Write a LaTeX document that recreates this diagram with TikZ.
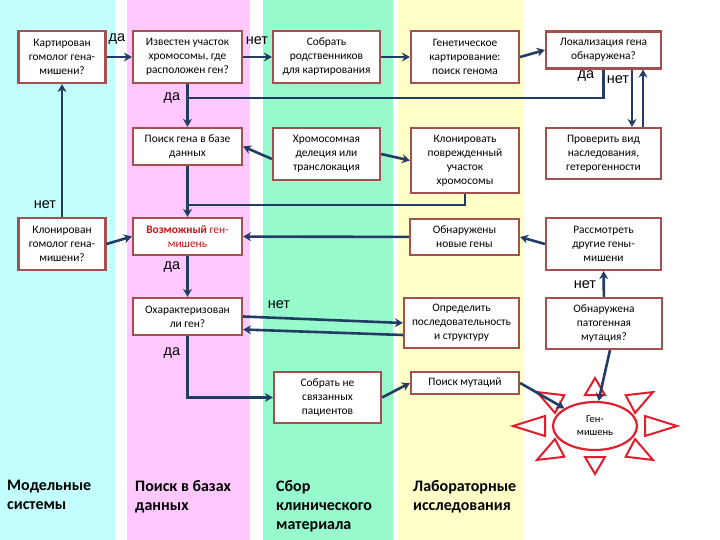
\documentclass[tikz,border=0pt]{standalone}
\usepackage{fontspec}
\setmainfont{Carlito}
\newfontfamily\answerfont{Liberation Sans}
\usepackage{tikz}
\usetikzlibrary{calc, positioning, shapes.geometric, arrows.meta}

\definecolor{bandcyan}{RGB}{195,255,255}
\definecolor{bandpink}{RGB}{255,200,255}
\definecolor{bandgreen}{RGB}{150,250,205}
\definecolor{bandyellow}{RGB}{255,255,200}
\definecolor{boxborder}{RGB}{165,80,80}
\definecolor{arrowblue}{RGB}{35,60,100}
\definecolor{sunred}{RGB}{225,30,45}
\definecolor{redtext}{RGB}{200,20,20}

\begin{document}
\begin{tikzpicture}[x=1pt, y=-1pt]
    % Define styles
    \tikzstyle{flow_box}=[draw=boxborder, line width=2.2pt, fill=white, align=center, inner sep=2pt, font=\fontsize{11.4}{14}\selectfont]
    \tikzstyle{flow_arrow}=[draw=arrowblue, line width=2.6pt, -{Stealth[length=8pt, width=9pt]}]
    \tikzstyle{flow_line}=[draw=arrowblue, line width=2.6pt]
    \tikzstyle{answer_text}=[font=\answerfont\fontsize{14.5}{16}\selectfont, inner sep=0pt]
    \tikzstyle{column_title}=[font=\fontsize{16}{19}\selectfont\bfseries, align=left, anchor=north west, inner sep=0pt]
    \tikzstyle{sun_ray}=[draw=sunred, line width=2pt, fill=white, line join=miter]

    \useasboundingbox (0,0) rectangle (720,540);

    % --- 1. Column bands ---
    \fill[bandcyan] (0,0) rectangle (115,540);
    \fill[bandpink] (127,0) rectangle (250,540);
    \fill[bandgreen] (263,0) rectangle (393,540);
    \fill[bandyellow] (398,0) rectangle (524,540);

    % --- 2. Boxes ---
    \node[flow_box, minimum width=87pt, minimum height=52pt] (b1) at (62,57) {Картирован\\гомолог гена-\\мишени?};
    \node[flow_box, minimum width=109pt, minimum height=52pt] (b2) at (187.5,57) {Известен участок\\хромосомы, где\\расположен ген?};
    \node[flow_box, minimum width=107pt, minimum height=52pt] (b3) at (326.5,57) {Собрать\\родственников\\для картирования};
    \node[flow_box, minimum width=108pt, minimum height=52pt] (b4) at (465,57) {Генетическое\\картирование:\\поиск генома};
    \node[flow_box, minimum width=115pt, minimum height=37pt] (b5) at (603.5,50) {Локализация гена\\обнаружена?};

    \node[flow_box, minimum width=109pt, minimum height=37pt] (b6) at (187.5,146.5) {Поиск гена в базе\\данных};
    \node[flow_box, minimum width=107pt, minimum height=52pt] (b7) at (326.5,154) {Хромосомная\\делеция или\\транслокация};
    \node[flow_box, minimum width=108pt, minimum height=65pt] (b8) at (465,160.5) {Клонировать\\поврежденный\\участок\\хромосомы};
    \node[flow_box, minimum width=115pt, minimum height=51pt] (b9) at (603.5,153.5) {Проверить вид\\наследования,\\гетерогенности};

    \node[flow_box, minimum width=87pt, minimum height=52pt] (b10) at (62,244) {Клонирован\\гомолог гена-\\мишени?};
    \node[flow_box, minimum width=109pt, minimum height=37pt, text=redtext] (b11) at (187.5,236.5) {\textbf{Возможный} ген-\\мишень};
    \node[flow_box, minimum width=109pt, minimum height=36pt] (b12) at (464.5,237) {Обнаружены\\новые гены};
    \node[flow_box, minimum width=115pt, minimum height=52pt] (b13) at (603.5,244) {Рассмотреть\\другие гены-\\мишени};

    \node[flow_box, minimum width=109pt, minimum height=37pt] (b14) at (187.5,316.5) {Охарактеризован\\ли ген?};
    \node[flow_box, minimum width=115pt, minimum height=50pt] (b15) at (461.5,323) {Определить\\последовательность\\и структуру};
    \node[flow_box, minimum width=116pt, minimum height=51pt] (b16) at (604,323.5) {Обнаружена\\патогенная\\мутация?};

    \node[flow_box, minimum width=107pt, minimum height=51pt] (b17) at (327.5,397.5) {Собрать не\\связанных\\пациентов};
    \node[flow_box, minimum width=108pt, minimum height=22pt] (b18) at (465,383) {Поиск мутаций};

    % --- 3. Sun around the target gene ---
    \foreach \a in {0,45,...,315} {
        \path ({595+50*cos(\a)}, {426-31*sin(\a)}) coordinate (rb)
              ({595+82*cos(\a)}, {426-48*sin(\a)}) coordinate (ra);
        \draw[sun_ray] ($(rb)!10pt!90:(ra)$) -- (ra) -- ($(rb)!10pt!-90:(ra)$) -- cycle;
    }
    \node[ellipse, draw=sunred, line width=2.2pt, fill=white, minimum width=84pt, minimum height=48pt,
          align=center, font=\fontsize{10.5}{13}\selectfont] (gene) at (595,426) {Ген-\\мишень};

    % --- 4. Connectors ---
    \coordinate (j1) at (187.5,98);
    \coordinate (j2) at (187.5,205);

    \draw[flow_arrow] (b1) -- (b2);
    \draw[flow_arrow] (b2) -- (b3);
    \draw[flow_arrow] (b3) -- (b4);
    \draw[flow_arrow] (b4.east) -- (b5.west);
    \draw[flow_arrow] ([xshift=28.5pt]b5.south) -- ([xshift=28.5pt]b9.north);
    \draw[flow_arrow] ([xshift=39.5pt]b9.north) -- ([xshift=39.5pt]b5.south);
    \draw[flow_line] (b5.south) |- (j1);
    \draw[flow_arrow] (b2) -- (b6);
    \draw[flow_arrow] ([yshift=-5pt]b7.west) -- (b6.east);
    \draw[flow_arrow] (b7.east) -- (b8.west);
    \draw[flow_arrow] (b6) -- (b11);
    \draw[flow_line] (b8.south) |- (j2);
    \draw[flow_arrow] (b10) -- (b1);
    \draw[flow_arrow] (b10.east) -- (b11.west);
    \draw[flow_arrow] (b12) -- (b11);
    \draw[flow_arrow] (b13.west) -- (b12.east);
    \draw[flow_arrow] (b11) -- (b14);
    \draw[flow_arrow] (b14.east) -- (b15.west);
    \draw[flow_arrow] ([yshift=-12pt]b15.west) -- ([yshift=-13pt]b14.east);
    \draw[flow_arrow] (b14.south) |- (b17.west);
    \draw[flow_arrow] (b17.east) -- (b18.west);
    \draw[flow_arrow] (b18.east) -- (gene.150);
    \draw[flow_arrow] ([xshift=6pt]b16.south) -- (gene.82);
    \draw[flow_arrow] (b16) -- (b13);

    % --- 5. Answers ---
    \node[answer_text] (y1) at (117,39) {да};
    \node[answer_text] (n1) at (257,41) {нет};
    \node[answer_text] (y2) at (172,98) {да};
    \node[answer_text] (y3) at (586,76) {да};
    \node[answer_text] (n2) at (618,80) {нет};
    \node[answer_text] (n3) at (45,205) {нет};
    \node[answer_text] (y4) at (172,267) {да};
    \node[answer_text] (n4) at (279,305) {нет};
    \node[answer_text] (y5) at (172,353) {да};
    \node[answer_text] (n5) at (585,285) {нет};

    % --- 6. Column titles ---
    \node[column_title] (t1) at (7,480) {Модельные\\системы};
    \node[column_title] (t2) at (135,480) {Поиск в базах\\данных};
    \node[column_title] (t3) at (276,480) {Сбор\\клинического\\материала};
    \node[column_title] (t4) at (413,480) {Лабораторные\\исследования};

\end{tikzpicture}
\end{document}
